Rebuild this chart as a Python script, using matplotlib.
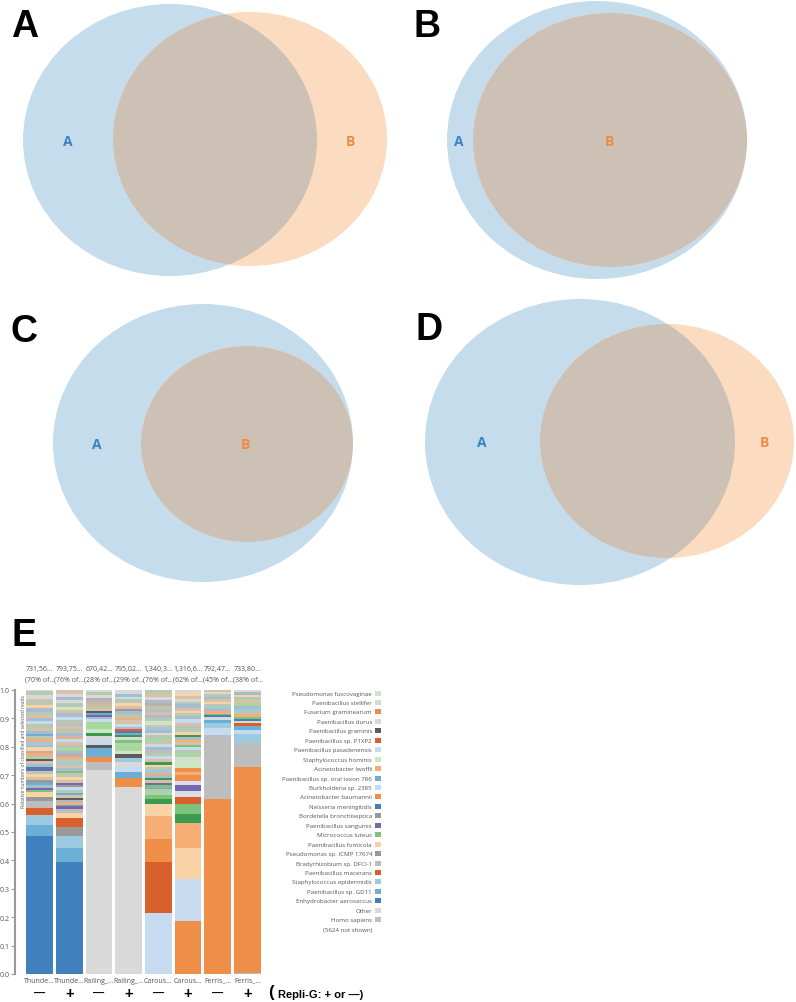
import matplotlib.pyplot as plt
from matplotlib.patches import Ellipse
from matplotlib.transforms import blended_transform_factory

W, H = 796, 1003

# venn panels: (cx, cy, rx, ry) in pixels
panel_letters = ['A', 'B', 'C', 'D']
set_a = [(170, 141, 147, 136), (597, 141, 150, 139), (203, 444, 150, 139), (580, 443, 155, 143)]
set_b = [(250, 140, 137, 127), (610, 141, 137, 127), (247, 445, 106, 98), (667, 442, 127, 117)]
label_a_pos = [(68, 142), (459, 142), (97, 445), (482, 443)]
label_b_pos = [(350, 142), (609, 142), (245, 445), (764, 443)]
letter_pos = [(11, 27), (413, 27), (11, 332), (415, 330)]

# panel E data
sample_names = ['Thunde…', 'Thunde…', 'Railing_…', 'Railing_…', 'Carous…', 'Carous…', 'Ferris_…', 'Ferris_…']
read_counts = ['731,56…', '793,75…', '670,42…', '795,02…', '1,340,3…', '1,316,6…', '792,47…', '733,80…']
read_pct = ['(70% of…', '(76% of…', '(28% of…', '(29% of…', '(76% of…', '(62% of…', '(45% of…', '(38% of…']
repli_g = ['—', '+', '—', '+', '—', '+', '—', '+']

pal = {
    'b1': '#3f80bd', 'b2': '#6baed6', 'b3': '#9ecae1', 'b4': '#c6dbef',
    'o1': '#d9602c', 'o2': '#ef8e49', 'o3': '#f6ae75', 'o4': '#f9d2a6',
    'g1': '#3c9a4e', 'g2': '#7cc47c', 'g3': '#a8d89e', 'g4': '#cbe6c3',
    'p1': '#7468ae', 'p4': '#dcdbea',
    'k1': '#5c5c5c', 'k2': '#999999', 'k3': '#bdbdbd', 'k4': '#d9d9d9',
    'm1': '#b7c9b2', 'm2': '#a9bccd', 'm3': '#d7c1a9', 'm4': '#c4aca2',
}

thunder_minus = [('b1', .485), ('b2', .040), ('b3', .035), ('o1', .025), ('k3', .025), ('k2', .015), ('o4', .015),
                 ('g2', .008), ('p1', .008), ('m2', .010), ('b2', .006), ('k2', .010), ('m3', .012), ('o4', .010),
                 ('m1', .012), ('p1', .006), ('b1', .006), ('m2', .012), ('m3', .010), ('k1', .006), ('m1', .012),
                 ('o3', .010), ('m4', .008), ('o4', .012), ('m2', .010), ('b3', .010), ('o3', .008), ('m1', .012),
                 ('b2', .006), ('m2', .012), ('m3', .010), ('m1', .014), ('b4', .010), ('m2', .012), ('m3', .010),
                 ('m1', .012), ('m2', .012), ('o4', .010), ('m1', .014), ('m3', .010), ('k4', .012), ('m1', .014),
                 ('k4', .004)]
thunder_plus = [('b1', .395), ('b2', .050), ('b3', .040), ('k2', .033), ('o1', .030), ('o4', .020), ('k3', .012),
                ('p1', .010), ('b2', .006), ('o3', .010), ('m2', .008), ('k1', .006), ('m3', .010), ('b2', .006),
                ('m1', .012), ('b4', .010), ('k2', .008), ('p1', .006), ('m3', .012), ('o4', .010), ('m1', .012),
                ('g2', .008), ('m2', .010), ('m3', .012), ('b3', .008), ('m1', .012), ('o3', .008), ('m4', .010),
                ('m2', .012), ('g3', .010), ('m1', .012), ('m3', .010), ('b4', .010), ('o3', .008), ('m2', .012),
                ('m1', .014), ('m3', .012), ('k3', .010), ('m1', .012), ('b4', .010), ('m2', .012), ('m3', .010),
                ('g4', .012), ('m1', .014), ('k4', .012), ('m2', .010), ('k4', .010), ('m3', .014)]
railing_minus = [('k4', .720), ('k3', .025), ('o2', .020), ('b2', .030), ('k1', .013), ('b4', .017), ('k4', .012),
                 ('g1', .010), ('g4', .015), ('g3', .025), ('b4', .010), ('m2', .008), ('p1', .006), ('b2', .008),
                 ('k1', .006), ('m3', .010), ('m1', .012), ('o3', .008), ('m2', .010), ('m4', .008), ('k4', .010),
                 ('m1', .010), ('k4', .007)]
railing_plus = [('k4', .660), ('o2', .030), ('b2', .020), ('b4', .020), ('k4', .015), ('b3', .015), ('k1', .013),
                ('g4', .012), ('g3', .030), ('g2', .010), ('k4', .010), ('g1', .006), ('b2', .008), ('p1', .006),
                ('o1', .006), ('m2', .010), ('b4', .010), ('m3', .012), ('o3', .010), ('m1', .012), ('m2', .010),
                ('k2', .008), ('m3', .012), ('o4', .010), ('m1', .012), ('b4', .008), ('m2', .010), ('k4', .015)]
carousel_minus = [('b4', .215), ('o1', .180), ('o2', .080), ('o3', .080), ('o4', .045), ('g1', .015), ('g2', .015),
                  ('g3', .012), ('m1', .008), ('b2', .006), ('g2', .010), ('p1', .006), ('m3', .010), ('g1', .008),
                  ('m2', .010), ('o3', .008), ('b3', .010), ('m1', .010), ('o4', .008), ('g1', .010), ('m3', .010),
                  ('b4', .012), ('m1', .010), ('k3', .010), ('m2', .010), ('b4', .012), ('m3', .008), ('g3', .010),
                  ('m1', .012), ('k4', .010), ('m2', .010), ('b3', .008), ('m3', .010), ('g4', .012), ('m1', .012),
                  ('m2', .010), ('m3', .010), ('k3', .010), ('m1', .012), ('m4', .010), ('m2', .012), ('k4', .010),
                  ('m3', .012), ('m1', .012)]
carousel_plus = [('o2', .187), ('b4', .148), ('o4', .110), ('o3', .085), ('g1', .035), ('g2', .035), ('o1', .025),
                 ('p4', .020), ('p1', .020), ('p4', .015), ('o2', .020), ('o3', .010), ('o2', .015), ('g4', .030),
                 ('k4', .010), ('g3', .012), ('m1', .010), ('b4', .012), ('g2', .008), ('m3', .010), ('o3', .008),
                 ('m2', .010), ('g1', .008), ('o4', .010), ('m1', .012), ('k3', .010), ('m3', .010), ('b4', .012),
                 ('m2', .010), ('m1', .012), ('o4', .008), ('m3', .010), ('m2', .012), ('m1', .010), ('k4', .010),
                 ('m3', .010), ('o4', .011), ('k4', .010)]
ferris_minus = [('o2', .617), ('k3', .223), ('b4', .025), ('b3', .020), ('b2', .010), ('k4', .010), ('b1', .006),
                ('g2', .006), ('o3', .008), ('m2', .008), ('b3', .008), ('m1', .010), ('o4', .008), ('m3', .010),
                ('m2', .008), ('m1', .008), ('k4', .008), ('m3', .007)]
ferris_plus = [('k3', .005), ('o2', .725), ('k3', .085), ('b3', .030), ('b4', .015), ('b2', .015), ('o1', .008),
               ('k4', .007), ('b1', .008), ('g2', .008), ('o3', .010), ('m1', .010), ('b3', .008), ('m2', .010),
               ('g3', .010), ('m3', .010), ('m1', .012), ('o4', .008), ('m2', .008), ('k4', .008)]
stacks = [thunder_minus, thunder_plus, railing_minus, railing_plus,
          carousel_minus, carousel_plus, ferris_minus, ferris_plus]

legend_names = ['Pseudomonas fuscovaginae', 'Paenibacillus stellifer', 'Fusarium graminearum', 'Paenibacillus durus',
                'Paenibacillus graminis', 'Paenibacillus sp. P1XP2', 'Paenibacillus pasadenensis',
                'Staphylococcus hominis', 'Acinetobacter lwoffii', 'Paenibacillus sp. oral taxon 786',
                'Burkholderia sp. 2385', 'Acinetobacter baumannii', 'Neisseria meningitidis',
                'Bordetella bronchiseptica', 'Paenibacillus sanguinis', 'Micrococcus luteus',
                'Paenibacillus fonticola', 'Pseudomonas sp. ICMP 17674', 'Bradyrhizobium sp. DFCI-1',
                'Paenibacillus macerans', 'Staphylococcus epidermidis', 'Paenibacillus sp. GD11',
                'Enhydrobacter aerosaccus', 'Other', 'Homo sapiens']
legend_keys = ['g4', 'k4', 'o2', 'k4', 'k1', 'o1', 'b4', 'g4', 'o3', 'b2', 'b4', 'o2', 'b1',
               'k2', 'p1', 'g2', 'o4', 'k2', 'k3', 'o1', 'b3', 'b2', 'b1', 'k4', 'm1']

fig = plt.figure(figsize=(W / 100, H / 100), dpi=100)

# --- venn diagrams A-D ---
bg = fig.add_axes([0, 0, 1, 1])
bg.set_xlim(0, W)
bg.set_ylim(H, 0)
bg.axis('off')
for i in range(4):
    ax_, ay_, arx, ary = set_a[i]
    bx_, by_, brx, bry = set_b[i]
    ea = Ellipse((ax_, ay_), 2 * arx, 2 * ary, fc='#c5dcec', ec='none')
    bg.add_patch(ea)
    bg.add_patch(Ellipse((bx_, by_), 2 * brx, 2 * bry, fc='#fbdcc0', ec='none'))
    ov = Ellipse((bx_, by_), 2 * brx, 2 * bry, fc='#cdc0b4', ec='none')
    bg.add_patch(ov)
    ov.set_clip_path(ea)
    bg.text(*label_a_pos[i], 'A', color='#3c82bf', fontsize=10, fontweight='bold',
            ha='center', va='center', family='Open Sans')
    bg.text(*label_b_pos[i], 'B', color='#ef8a44', fontsize=10, fontweight='bold',
            ha='center', va='center', family='Open Sans')
    bg.text(*letter_pos[i], panel_letters[i], fontsize=27, fontweight='bold',
            ha='left', va='center', family='Liberation Sans')
bg.text(11, 636, 'E', fontsize=27, fontweight='bold', ha='left', va='center', family='Liberation Sans')

# --- panel E stacked bars ---
bx = fig.add_axes([15 / W, (H - 975) / H, 248 / W, 284 / H])
bx.set_xlim(-0.825, 7.52)
bx.set_ylim(0, 1)
for i, stack in enumerate(stacks):
    base = 0
    for key, h in stack:
        bx.bar(i, h, bottom=base, width=0.9, color=pal[key], linewidth=0)
        base += h

for s in ['top', 'right', 'bottom']:
    bx.spines[s].set_visible(False)
bx.spines['left'].set_color('#999999')
bx.spines['left'].set_linewidth(1.5)
bx.set_xticks([])
bx.set_yticks([k / 10 for k in range(11)])
bx.set_yticklabels(['%.1f' % (k / 10) for k in range(11)], fontsize=5, color='#555555', family='Open Sans')
bx.tick_params(axis='y', length=3, width=0.8, color='#999999', pad=1)
bx.text(0.036, 0.985, 'Relative numbers of classified and selected reads', transform=bx.transAxes,
        rotation=90, ha='center', va='top', fontsize=3.6, color='#555555', family='Open Sans')

tr = blended_transform_factory(bx.transData, bx.transAxes)
for i in range(len(stacks)):
    bx.text(i, 1.077, read_counts[i], transform=tr, ha='center', va='center', fontsize=5,
            color='#555555', family='Open Sans', clip_on=False)
    bx.text(i, 1.038, read_pct[i], transform=tr, ha='center', va='center', fontsize=5,
            color='#555555', family='Open Sans', clip_on=False)
    bx.text(i, -0.022, sample_names[i], transform=tr, ha='center', va='center', fontsize=5,
            color='#555555', family='Open Sans', clip_on=False)
    sign_size = 8 if repli_g[i] == '—' else 10.5
    bx.text(i, -0.067, repli_g[i], transform=tr, ha='center', va='center', fontsize=sign_size,
            fontweight='bold', family='Liberation Sans', clip_on=False)

bg.text(268, 993, '(', fontsize=12, fontweight='bold', ha='left', va='center', family='Liberation Sans')
bg.text(278, 995, 'Repli-G: + or —)', fontsize=8, fontweight='bold', ha='left', va='center',
        family='Liberation Sans')

# --- legend ---
lg = fig.add_axes([250 / W, (H - 925.5) / H, 150 / W, 236.2 / H])
lg.set_xlim(250, 400)
lg.set_ylim(24.5, -0.5)
lg.axis('off')
for j, name in enumerate(legend_names):
    lg.text(372, j, name, ha='right', va='center', fontsize=4.4, color='#555555', family='Open Sans')
lg.scatter([378] * len(legend_keys), range(len(legend_keys)), marker='s', s=13,
           c=[pal[k] for k in legend_keys], linewidths=0)
lg.text(372, 24 + 1, '(5624 not shown)', ha='right', va='center', fontsize=4.4, color='#555555',
        family='Open Sans', clip_on=False)

fig.savefig('out.png', dpi=100)
